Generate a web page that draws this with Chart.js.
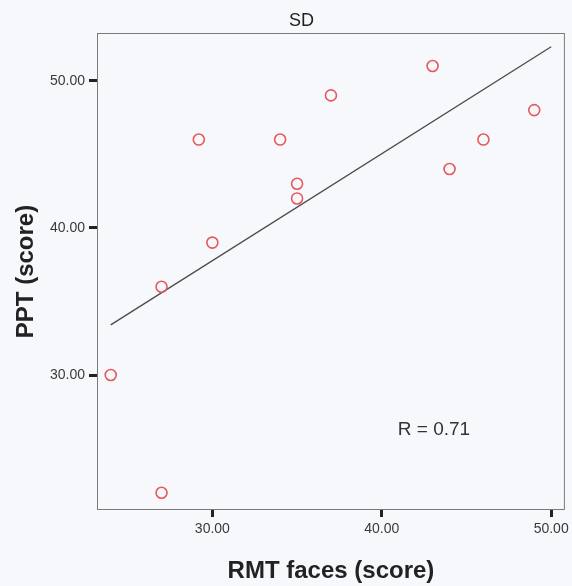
<!DOCTYPE html>
<html>
<head>
<meta charset="utf-8">
<script src="https://cdn.jsdelivr.net/npm/chart.js@4.4.1/dist/chart.umd.min.js"></script>
<style>
  html, body { margin: 0; padding: 0; background: #f7f8fb; }
  #wrap { width: 572px; height: 586px; }
</style>
</head>
<body>
<div id="wrap"><canvas id="c" width="572" height="586"></canvas></div>
<script>
// ---- data ----
const rmtFaces = [24, 27, 27, 30, 29.2, 34, 35, 35, 37, 43, 44, 46, 49];
const pptScore = [30, 22, 36, 39, 46, 46, 43, 42, 49, 51, 44, 46, 48];
const xTicks = [30, 40, 50];
const yTicks = [30, 40, 50];
const fitRange = [24, 50];
const chartTitle = 'SD';
const xTitle = 'RMT faces (score)';
const yTitle = 'PPT (score)';
const rLabel = 'R = 0.71';

// least-squares fit line
function fit(xs, ys) {
  const n = xs.length;
  const mx = xs.reduce((a, b) => a + b, 0) / n;
  const my = ys.reduce((a, b) => a + b, 0) / n;
  let sxy = 0, sxx = 0;
  for (let i = 0; i < n; i++) { sxy += (xs[i] - mx) * (ys[i] - my); sxx += (xs[i] - mx) ** 2; }
  const b = sxy / sxx;
  return { a: my - b * mx, b };
}
const lf = fit(rmtFaces, pptScore);
const fitPoints = fitRange.map(x => ({ x, y: lf.a + lf.b * x }));
const points = rmtFaces.map((x, i) => ({ x, y: pptScore[i] }));

const bgPlugin = {
  id: 'bg',
  beforeDraw(chart) {
    const ctx = chart.ctx;
    ctx.save();
    ctx.fillStyle = '#f7f8fb';
    ctx.fillRect(0, 0, chart.width, chart.height);
    ctx.restore();
  },
  afterDraw(chart) {
    const { ctx, chartArea: ca } = chart;
    ctx.save();
    ctx.strokeStyle = '#7a7a7a';
    ctx.lineWidth = 1;
    ctx.strokeRect(ca.left + 0.5, ca.top + 0.5, ca.right - ca.left - 1, ca.bottom - ca.top - 1);
    ctx.fillStyle = '#222';
    ctx.textAlign = 'center';
    ctx.textBaseline = 'middle';
    ctx.font = '18px "Liberation Sans", Arial, sans-serif';
    ctx.fillText(chartTitle, 301.5, 21.5);
    ctx.fillStyle = '#333';
    ctx.font = '19px "Liberation Sans", Arial, sans-serif';
    ctx.fillText(rLabel, ca.left + 337, ca.top + 397);
    ctx.restore();
  }
};

new Chart(document.getElementById('c'), {
  type: 'scatter',
  data: {
    datasets: [
      {
        data: points,
        showLine: false,
        pointStyle: 'circle',
        pointRadius: 5.5,
        pointBorderWidth: 1.6,
        pointBorderColor: '#e45a5e',
        pointBackgroundColor: 'rgba(0,0,0,0)',
        order: 1
      },
      {
        type: 'line',
        data: fitPoints,
        borderColor: '#4a4a4a',
        borderWidth: 1.3,
        pointRadius: 0,
        fill: false,
        order: 2
      }
    ]
  },
  options: {
    responsive: false,
    animation: false,
    events: [],
    layout: { padding: { top: 33, right: 6, left: 0, bottom: 0 } },
    plugins: { legend: { display: false }, tooltip: { enabled: false }, title: { display: false } },
    scales: {
      x: {
        type: 'linear',
        min: 23.19,
        max: 50.81,
        afterBuildTicks(s) { s.ticks = xTicks.map(v => ({ value: v })); },
        afterFit(s) { s.height = 76; s.paddingLeft = 0; s.paddingRight = 0; },
        grid: { drawOnChartArea: false, drawTicks: true, tickLength: 7, tickWidth: 3, tickColor: '#222' },
        border: { display: false },
        ticks: {
          padding: 4,
          color: '#3a3a3a',
          font: { family: '"Liberation Sans", Arial, sans-serif', size: 14 },
          callback: v => Number(v).toFixed(2),
          maxRotation: 0
        },
        title: {
          display: true,
          text: xTitle,
          color: '#222',
          font: { family: '"Liberation Sans", Arial, sans-serif', size: 24, weight: 'bold' },
          padding: { top: 0, bottom: 0 }
        }
      },
      y: {
        type: 'linear',
        min: 20.83,
        max: 53.24,
        afterBuildTicks(s) { s.ticks = yTicks.map(v => ({ value: v })); },
        afterFit(s) { s.width = 97; s.paddingTop = 0; s.paddingBottom = 0; },
        grid: { drawOnChartArea: false, drawTicks: true, tickLength: 8, tickWidth: 3, tickColor: '#222' },
        border: { display: false },
        ticks: {
          padding: 4,
          color: '#3a3a3a',
          font: { family: '"Liberation Sans", Arial, sans-serif', size: 14 },
          callback: v => Number(v).toFixed(2)
        },
        title: {
          display: true,
          text: yTitle,
          color: '#222',
          font: { family: '"Liberation Sans", Arial, sans-serif', size: 24, weight: 'bold' },
          padding: { top: 12, bottom: 0 }
        }
      }
    }
  },
  plugins: [bgPlugin]
});
</script>
</body>
</html>
